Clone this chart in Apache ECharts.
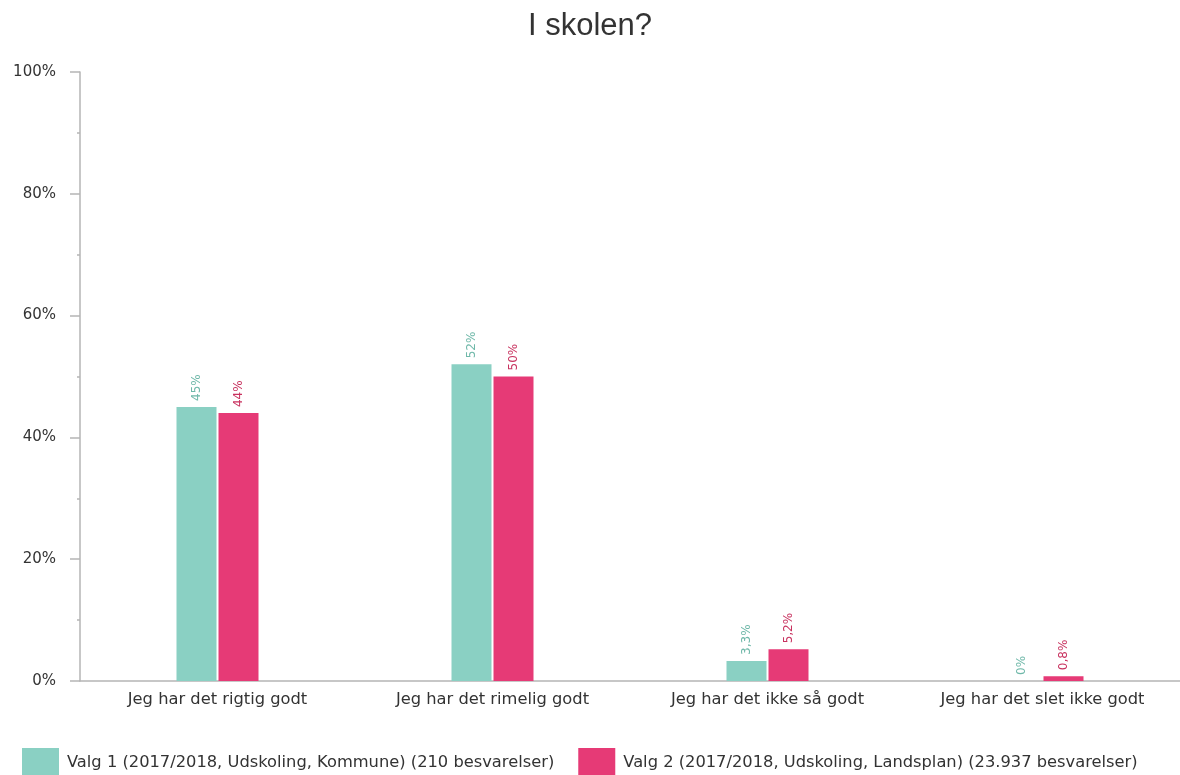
<!DOCTYPE html>
<html>
<head>
<meta charset="utf-8">
<script src="https://cdn.jsdelivr.net/npm/echarts@6/dist/echarts.min.js"></script>
<style>
  html, body { margin: 0; padding: 0; background: #fff; }
  #chart { width: 1180px; height: 775px; }
</style>
</head>
<body>
<div id="chart"></div>
<script>
// Answer categories and shares (percent) per survey group
const categories = ['Jeg har det rigtig godt', 'Jeg har det rimelig godt', 'Jeg har det ikke så godt', 'Jeg har det slet ikke godt'];
const seriesNames = [
  'Valg 1 (2017/2018, Udskoling, Kommune) (210 besvarelser)',
  'Valg 2 (2017/2018, Udskoling, Landsplan) (23.937 besvarelser)'
];
const valg1 = [45, 52, 3.3, 0];
const valg2 = [44, 50, 5.2, 0.8];
const yTicks = [0, 20, 40, 60, 80, 100];

const fmt = v => String(v).replace('.', ',') + '%';
const baseFont = 'DejaVu Sans, Verdana, sans-serif';

const chart = echarts.init(document.getElementById('chart'));
chart.setOption({
  animation: false,
  textStyle: { fontFamily: baseFont },
  title: {
    text: 'I skolen?',
    left: 'center',
    top: 6,
    textStyle: { fontSize: 31, fontWeight: 'normal', color: '#333', fontFamily: 'Liberation Sans, Arial, sans-serif' }
  },
  legend: {
    bottom: -8,
    left: 17,
    itemWidth: 37,
    itemHeight: 30,
    itemGap: 24,
    icon: 'rect',
    textStyle: { fontSize: 16.3, color: '#333', padding: [0, 0, 0, 3] },
    data: seriesNames
  },
  grid: { left: 80, right: 0, top: 72, bottom: 94 },
  xAxis: {
    type: 'category',
    data: categories,
    axisLine: { lineStyle: { color: '#b5b5b5', width: 1.5 } },
    axisTick: { show: false },
    axisLabel: { fontSize: 16.3, color: '#333', margin: 11 }
  },
  yAxis: {
    type: 'value',
    min: 0,
    max: 100,
    interval: 20,
    axisLine: { show: true, lineStyle: { color: '#b5b5b5', width: 1.5 } },
    axisTick: { show: true, length: 10, lineStyle: { color: '#b5b5b5', width: 1.5 } },
    minorTick: { show: true, splitNumber: 2, length: 3, lineStyle: { color: '#b5b5b5', width: 1.5 } },
    splitLine: { show: false },
    axisLabel: {
      fontSize: 15, color: '#333', margin: 24,
      formatter: v => yTicks.includes(v) ? v + '%' : ''
    }
  },
  series: [
    {
      name: seriesNames[0],
      type: 'bar',
      data: valg1,
      barWidth: 40,
      barGap: '5%',
      itemStyle: { color: '#8ad0c3' },
      label: {
        show: true, position: 'top', rotate: 90, align: 'left', verticalAlign: 'middle',
        distance: 6, fontSize: 12, color: '#6fb8a9',
        formatter: p => fmt(p.value)
      }
    },
    {
      name: seriesNames[1],
      type: 'bar',
      data: valg2,
      barWidth: 40,
      itemStyle: { color: '#e63a76' },
      label: {
        show: true, position: 'top', rotate: 90, align: 'left', verticalAlign: 'middle',
        distance: 6, fontSize: 12, color: '#c8325f',
        formatter: p => fmt(p.value)
      }
    }
  ]
});
</script>
</body>
</html>
